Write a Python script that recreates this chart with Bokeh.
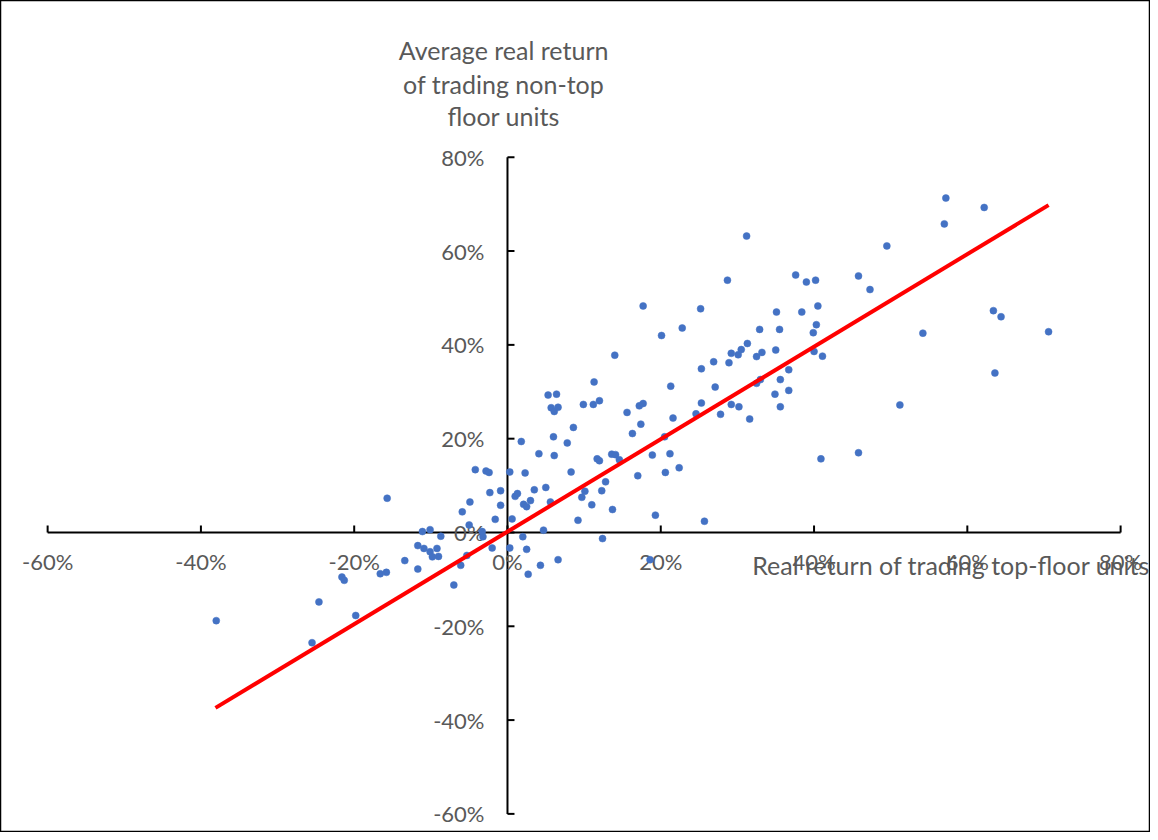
import math
from bokeh.plotting import figure
from bokeh.models import Range1d
from bokeh.core.properties import value
from bokeh.embed import file_html
from bokeh.resources import INLINE

# ---- data (percent) ----
top_floor_return = [
    -38.0, -24.6, -25.5, -19.8, -21.6, -21.3, -16.6, -15.8, -15.7, -13.4,
    -11.7, -11.7, -10.9, -10.1, -9.2, -9.8, -9.0, -11.1, -10.1, -8.7,
    -7.0, -6.1, -5.3, -5.0, -5.9, -4.9, -4.2, -2.8, -2.4, -3.3,
    -3.2, -2.0, -2.3, -1.6, -0.9, -0.9, 0.3, 0.6, 0.3, 1.8,
    2.3, 1.0, 1.3, 2.1, 2.5, 3.0, 3.5, 4.1, 5.0, 5.6,
    6.1, 4.7, 2.0, 2.5, 4.3, 2.7, 6.6, 6.0, 5.3, 6.4,
    5.7, 6.1, 6.6, 7.8, 8.3, 8.6, 9.2, 9.7, 10.1, 9.9,
    11.2, 11.3, 12.0, 11.0, 11.7, 12.0, 12.3, 12.4, 12.8, 13.7,
    13.6, 14.1, 14.6, 14.0, 15.6, 16.3, 17.0, 17.2, 17.7, 17.4,
    18.9, 19.3, 18.6, 28.7, 39.0, 40.2, 17.7, 25.2, 22.8, 20.1,
    40.5, 35.1, 38.4, 35.5, 32.9, 40.3, 39.9, 31.3, 30.5, 29.2,
    30.1, 28.9, 32.5, 33.2, 35.0, 40.0, 41.1, 26.9, 25.3, 21.3,
    27.1, 32.5, 33.0, 35.6, 36.7, 36.7, 34.9, 35.6, 25.3, 24.6,
    27.8, 29.2, 30.2, 31.6, 21.6, 20.5, 21.2, 22.4, 20.6, 25.7,
    40.9, 31.2, 37.6, 45.8, 47.3, 45.8, 57.2, 62.2, 57.0, 49.5,
    63.4, 64.4, 70.6, 54.2, 63.6, 51.2,
]
non_top_return = [
    -18.8, -14.8, -23.5, -17.7, -9.5, -10.2, -8.8, -8.5, 7.3, -6.0,
    -7.8, -2.8, -3.4, -4.1, -3.4, -5.2, -5.1, 0.2, 0.6, -0.8,
    -11.2, -7.0, -4.9, 1.6, 4.4, 6.5, 13.4, 13.1, 12.8, 0.2,
    -0.9, -3.3, 8.5, 2.8, 8.9, 5.8, 12.9, 2.9, -3.3, 19.4,
    12.7, 7.7, 8.3, 6.0, 5.5, 6.8, 9.1, 16.8, 9.6, 6.5,
    16.4, 0.5, -0.9, -3.6, -7.0, -8.9, -5.8, 20.4, 29.3, 29.5,
    26.6, 25.8, 26.7, 19.1, 12.9, 22.4, 2.6, 7.5, 8.8, 27.3,
    27.3, 32.1, 28.1, 5.9, 15.7, 15.3, 8.9, -1.3, 10.8, 4.9,
    16.7, 16.6, 15.5, 37.8, 25.6, 21.1, 12.1, 27.0, 27.5, 23.1,
    16.5, 3.7, -5.8, 53.8, 53.4, 53.8, 48.3, 47.7, 43.6, 42.0,
    48.3, 47.0, 47.0, 43.3, 43.3, 44.3, 42.6, 40.3, 39.0, 38.2,
    37.9, 36.2, 37.5, 38.4, 38.9, 38.6, 37.6, 36.4, 34.9, 31.2,
    31.0, 31.8, 32.6, 32.6, 34.7, 30.3, 29.5, 26.8, 27.6, 25.3,
    25.2, 27.3, 26.8, 24.2, 24.4, 20.4, 16.8, 13.8, 12.8, 2.4,
    15.7, 63.2, 54.9, 54.7, 51.8, 17.0, 71.3, 69.3, 65.8, 61.1,
    47.3, 46.0, 42.8, 42.5, 34.0, 27.2,
]
trend_x = [-38.1, 70.6]
trend_y = [-37.4, 69.8]

x_ticks = [-60, -40, -20, 0, 20, 40, 60, 80]
y_ticks = [-60, -40, -20, 0, 20, 40, 60, 80]
x_tick_labels = ["-60%", "-40%", "-20%", "0%", "20%", "40%", "60%", "80%"]
y_tick_labels = ["-60%", "-40%", "-20%", "0%", "20%", "40%", "60%", "80%"]
y_title_lines = ["Average real return", "of trading non-top", "floor units"]
x_title = "Real return of trading top-floor units"

FONT = "Lato"
GREY = "#595959"

p = figure(width=1150, height=832, output_backend="svg", toolbar_location=None,
           x_range=Range1d(-66.15, 83.90), y_range=Range1d(-63.97, 113.43),
           min_border=0)
p.xaxis.visible = False
p.yaxis.visible = False
p.grid.visible = False
p.outline_line_color = "#000000"
p.outline_line_width = 1.5
p.background_fill_color = "white"
p.border_fill_color = "white"

# axes lines crossing at zero
p.line(x=[x_ticks[0], x_ticks[-1]], y=[0, 0], line_color="black", line_width=2)
p.line(x=[0, 0], y=[y_ticks[0], y_ticks[-1]], line_color="black", line_width=2)
# ticks (inside)
p.ray(x=x_ticks, y=[0] * len(x_ticks), length=7, angle=math.pi / 2,
      length_units="screen", line_color="black", line_width=2)
p.ray(x=[0] * len(y_ticks), y=y_ticks, length=7, angle=0,
      length_units="screen", line_color="black", line_width=2)

# tick labels
p.text(x=x_ticks, y=[0] * len(x_ticks), text=x_tick_labels, y_offset=29,
       text_align="center", text_baseline="middle",
       text_font=value(FONT), text_font_size="22px", text_color=GREY)
p.text(x=[0] * len(y_ticks), y=y_ticks, text=y_tick_labels, x_offset=-23,
       text_align="right", text_baseline="middle",
       text_font=value(FONT), text_font_size="22px", text_color=GREY)

# axis titles
p.text(x=[-0.5] * 3, y=[102.8, 95.7, 88.7], text=y_title_lines,
       text_align="center", text_baseline="middle",
       text_font=value(FONT), text_font_size="25px", text_color=GREY)
p.text(x=[57.9], y=[-7.0], text=[x_title],
       text_align="center", text_baseline="middle",
       text_font=value(FONT), text_font_size="25px", text_color=GREY)

# data
p.scatter(x=top_floor_return, y=non_top_return, size=7,
          fill_color="#4472C4", line_color="#4472C4", line_width=0.5)
p.line(x=trend_x, y=trend_y, line_color="#FF0000", line_width=4)

open("out.html", "w").write(file_html(p, INLINE))
